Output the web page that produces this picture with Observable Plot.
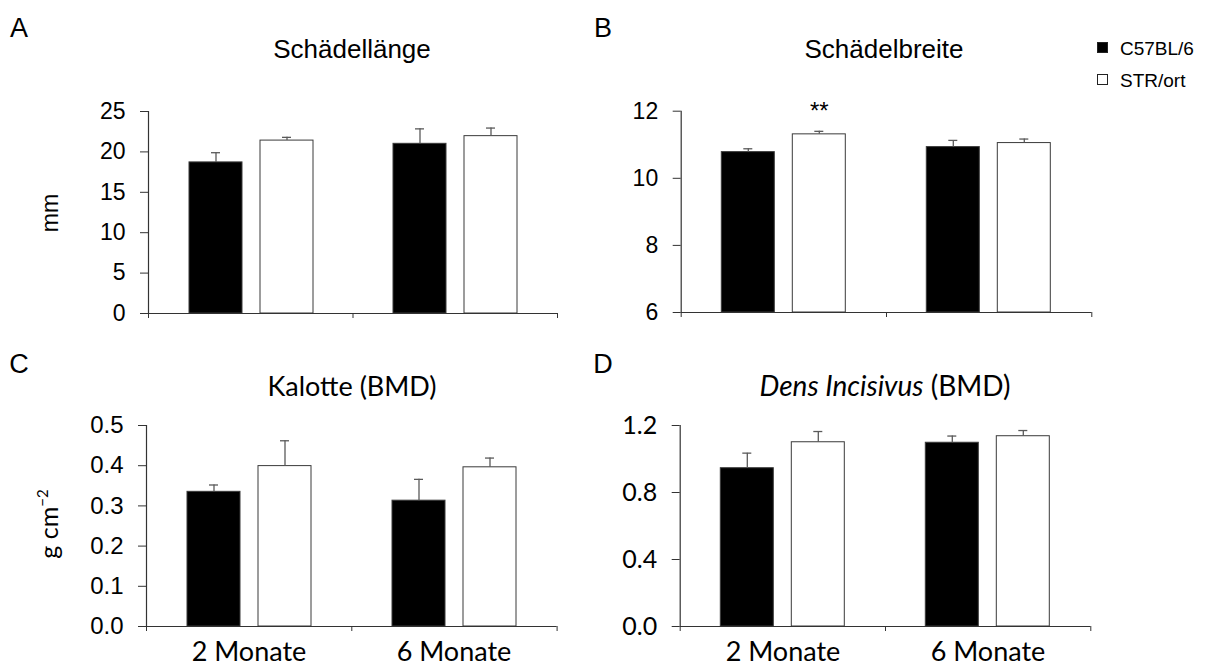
<!DOCTYPE html>
<html><head><meta charset="utf-8">
<script src="https://cdn.jsdelivr.net/npm/d3@7"></script>
<script src="https://cdn.jsdelivr.net/npm/@observablehq/plot@0.6"></script>
<style>
body{margin:0;background:#fff;}
#root{position:relative;width:1207px;height:668px;overflow:hidden;font-family:"Liberation Sans",Arial,sans-serif;color:#000;background:#fff;}
.abs{position:absolute;white-space:nowrap;line-height:1;}
.c{transform:translate(-50%,-50%);}
.panel{position:absolute;}
.panel svg{position:absolute;left:0;top:0;max-width:none !important;}
</style></head><body><div id="root"></div>
<script>
// ---------- data ----------
const months = ["2 Monate", "6 Monate"];
const strains = ["C57BL/6", "STR/ort"];
// order: 2 Monate C57BL/6, 2 Monate STR/ort, 6 Monate C57BL/6, 6 Monate STR/ort
const laengeMean  = [18.7, 21.4, 21.0, 21.95];
const laengeErr   = [1.2, 0.4, 1.85, 1.0];
const breiteMean  = [10.78, 11.31, 10.93, 11.05];
const breiteErr   = [0.10, 0.09, 0.20, 0.12];
const breiteSig   = ["", "**", "", ""];
const kalotteMean = [0.335, 0.399, 0.313, 0.396];
const kalotteErr  = [0.017, 0.063, 0.053, 0.023];
const densMean    = [0.945, 1.100, 1.097, 1.136];
const densErr     = [0.090, 0.064, 0.040, 0.034];
const ticksA = [0, 5, 10, 15, 20, 25];
const ticksB = [6, 8, 10, 12];
const ticksC = [0, 0.1, 0.2, 0.3, 0.4, 0.5];
const ticksD = [0, 0.4, 0.8, 1.2];

function rows(mean, err, sig) {
  return months.flatMap((m, i) => strains.map((s, j) => ({
    month: m, strain: s, mean: mean[i * 2 + j], err: err[i * 2 + j],
    sig: sig ? sig[i * 2 + j] : ""
  })));
}

const ARIAL = "'Liberation Sans', Arial, sans-serif";
const CALI = "Lato, 'Open Sans', sans-serif";
const axisColor = "#333";
const errColor = "#5a5a5a";

const panels = [
  {data: rows(laengeMean, laengeErr), ticks: ticksA, fmt: d3.format("d"), tickFont: ARIAL, tickSize: 23,
   box: {left: 0, top: 0, width: 600, height: 340}, m: {l: 148, r: 43, t: 111, b: 27}, bottom: false},
  {data: rows(breiteMean, breiteErr, breiteSig), ticks: ticksB, fmt: d3.format("d"), tickFont: ARIAL, tickSize: 23,
   box: {left: 600, top: 0, width: 600, height: 340}, m: {l: 80.7, r: 108.7, t: 110.7, b: 28}, bottom: false},
  {data: rows(kalotteMean, kalotteErr), ticks: ticksC, fmt: d3.format(".1f"), tickFont: ARIAL, tickSize: 24,
   box: {left: 0, top: 340, width: 600, height: 328}, m: {l: 146, r: 43.4, t: 85, b: 42}, bottom: true},
  {data: rows(densMean, densErr), ticks: ticksD, fmt: d3.format(".1f"), tickFont: CALI, tickSize: 25,
   box: {left: 600, top: 340, width: 600, height: 328}, m: {l: 79.7, r: 109.7, t: 85, b: 42}, bottom: true}
];

const root = document.getElementById("root");

for (const p of panels) {
  const yDomain = [d3.min(p.ticks), d3.max(p.ticks)];
  const common = {
    width: p.box.width, height: p.box.height,
    marginLeft: p.m.l, marginRight: p.m.r, marginTop: p.m.t, marginBottom: p.m.b,
    y: {domain: yDomain, axis: null}
  };
  const bars = Plot.plot({
    ...common,
    style: {background: "transparent", overflow: "visible", fontFamily: CALI, fontSize: "27px", color: "#000"},
    fx: {domain: months, paddingInner: 0, paddingOuter: 0, axis: null},
    x: {domain: strains, paddingInner: 0.256, paddingOuter: 0.56, axis: null},
    color: {domain: strains, range: ["#000000", "#ffffff"]},
    marks: [
      Plot.barY(p.data, {fx: "month", x: "strain", y1: yDomain[0], y2: "mean", fill: "strain", stroke: "#3a3a3a", strokeWidth: 1}),
      Plot.ruleX(p.data, {fx: "month", x: "strain", y1: "mean", y2: d => d.mean + d.err, stroke: errColor, strokeWidth: 1.3}),
      Plot.tickY(p.data, {fx: "month", x: "strain", y: d => d.mean + d.err, insetLeft: 22, insetRight: 22, stroke: errColor, strokeWidth: 1.3}),
      Plot.text(p.data.filter(d => d.sig), {fx: "month", x: "strain", y: d => d.mean + d.err, text: "sig", dy: -20, fontSize: 24, fontFamily: ARIAL, fill: "#000"}),
      p.bottom ? Plot.axisFx({anchor: "bottom", tickSize: 0, tickPadding: 15, label: null, fontSize: 27, fontFamily: CALI}) : null
    ]
  });
  const axes = Plot.plot({
    ...common,
    style: {background: "transparent", overflow: "visible", fontFamily: p.tickFont, fontSize: p.tickSize + "px", color: "#000"},
    x: {type: "linear", domain: [0, months.length], axis: null},
    marks: [
      Plot.ruleX([0], {y1: yDomain[0], y2: yDomain[1], stroke: axisColor, strokeWidth: 1.2}),
      Plot.ruleY([yDomain[0]], {x1: 0, x2: months.length, stroke: axisColor, strokeWidth: 1.2}),
      Plot.axisX({ticks: d3.range(months.length + 1), tickSize: 5, tickFormat: () => "", stroke: axisColor, label: null}),
      Plot.axisY({ticks: p.ticks, tickSize: 8, tickPadding: 15, tickFormat: p.fmt, stroke: axisColor, fill: "#000", label: null, fontSize: p.tickSize, fontFamily: p.tickFont})
    ]
  });
  const div = document.createElement("div");
  div.className = "panel";
  Object.assign(div.style, {left: p.box.left + "px", top: p.box.top + "px", width: p.box.width + "px", height: p.box.height + "px"});
  div.appendChild(bars);
  div.appendChild(axes);
  root.appendChild(div);
}

// ---------- texts ----------
function addText(html, x, y, css) {
  const d = document.createElement("div");
  d.className = "abs c";
  d.innerHTML = html;
  d.style.left = x + "px"; d.style.top = y + "px";
  Object.assign(d.style, css || {});
  root.appendChild(d);
  return d;
}
const letterCss = {fontSize: "27px", fontFamily: ARIAL};
addText("A", 19, 28, letterCss);
addText("B", 603, 28, letterCss);
addText("C", 19, 364, letterCss);
addText("D", 603, 364, letterCss);

addText("Schädellänge", 352, 49, {fontSize: "26px", fontFamily: ARIAL});
addText("Schädelbreite", 884, 49, {fontSize: "26px", fontFamily: ARIAL});
addText("Kalotte (BMD)", 352, 385, {fontSize: "27px", fontFamily: CALI});
addText("<i>Dens Incisivus</i> (BMD)", 885, 385, {fontSize: "28px", fontFamily: CALI});

addText("mm", 50, 213, {fontSize: "23px", fontFamily: ARIAL, transform: "translate(-50%,-50%) rotate(-90deg)"});
addText("g cm<sup style='font-size:0.6em;vertical-align:0.7em'>−2</sup>", 48, 524, {fontSize: "25px", fontFamily: CALI, transform: "translate(-50%,-50%) rotate(-90deg)"});

// legend
const legendY = [48, 80];
strains.forEach((s, i) => {
  const sq = document.createElement("div");
  sq.className = "abs";
  Object.assign(sq.style, {left: "1097px", top: (legendY[i] - 6) + "px", width: "11px", height: "11px",
    background: i === 0 ? "#000" : "#fff", border: "1px solid #222", boxSizing: "border-box"});
  root.appendChild(sq);
  const t = document.createElement("div");
  t.className = "abs";
  t.textContent = s;
  Object.assign(t.style, {left: "1120px", top: (legendY[i] - 9) + "px", fontSize: "19px", fontFamily: ARIAL});
  root.appendChild(t);
});
</script></body></html>
